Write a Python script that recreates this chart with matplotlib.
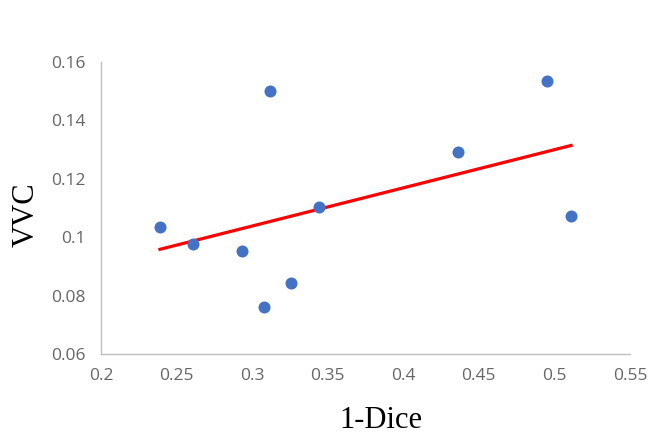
import numpy as np
import matplotlib.pyplot as plt

# values
dice_err = [0.239, 0.261, 0.293, 0.308, 0.312, 0.326, 0.344, 0.436, 0.495, 0.511]
vvc = [0.1035, 0.0977, 0.0953, 0.0761, 0.1499, 0.0843, 0.1102, 0.1292, 0.1535, 0.1072]

xticks = [0.2, 0.25, 0.3, 0.35, 0.4, 0.45, 0.5, 0.55]
xtick_labels = ['0.2', '0.25', '0.3', '0.35', '0.4', '0.45', '0.5', '0.55']
yticks = [0.06, 0.08, 0.1, 0.12, 0.14, 0.16]
ytick_labels = ['0.06', '0.08', '0.1', '0.12', '0.14', '0.16']

fig = plt.figure(figsize=(6.64, 4.37), dpi=100)
ax = fig.add_axes([101/664, 1 - 354/437, 529/664, 292/437])

ax.scatter(dice_err, vvc, s=75, color='#4472C4', zorder=3, linewidths=0)

# linear trendline
k, b = np.polyfit(dice_err, vvc, 1)
xs = np.array([min(dice_err), max(dice_err)])
ax.plot(xs, k * xs + b, color='#FF0000', lw=2.3, zorder=2)

ax.set_xlim(0.2, 0.55)
ax.set_ylim(0.06, 0.16)
ax.set_xticks(xticks)
ax.set_xticklabels(xtick_labels)
ax.set_yticks(yticks)
ax.set_yticklabels(ytick_labels)

for s in ['top', 'right']:
    ax.spines[s].set_visible(False)
for s in ['left', 'bottom']:
    ax.spines[s].set_color('#BFBFBF')
    ax.spines[s].set_linewidth(1)
ax.tick_params(length=0, labelsize=12.5, labelcolor='#666666')
ax.tick_params(axis='x', pad=10)
ax.tick_params(axis='y', pad=11)
for lab in ax.get_xticklabels() + ax.get_yticklabels():
    lab.set_family('Open Sans')

fig.text(381/664, 1 - 428/437, '1-Dice', family='Liberation Serif', fontsize=22,
         ha='center', va='baseline')
fig.text(26/664, 1 - 215/437, 'VVC', family='Liberation Serif', fontsize=22,
         ha='center', va='center', rotation=90)

fig.savefig('out.png', dpi=100)
